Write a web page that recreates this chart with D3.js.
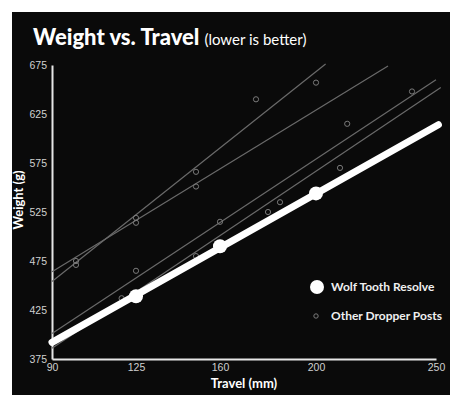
<!DOCTYPE html>
<html>
<head>
<meta charset="utf-8">
<script src="https://cdn.jsdelivr.net/npm/d3@7"></script>
<style>
  html, body { margin: 0; padding: 0; background: #fff; }
  svg { display: block; }
</style>
</head>
<body>
<script>
// chart values
const xTicks = [90, 125, 160, 200, 250]
const yTicks = [375, 425, 475, 525, 575, 625, 675]

const wolfTravel = [125, 160, 200]
const wolfWeight = [439, 490, 544]
const wolfFit = [[90, 392], [251, 614]]

const otherTravel = [100, 100, 119, 125, 125, 125, 150, 150, 150, 160, 175, 180, 185, 200, 210, 213, 240]
const otherWeight = [475, 471, 437, 519, 514, 465, 566, 551, 480, 515, 640, 525, 535, 657, 570, 615, 648]

// trend lines of the other posts: [travel, weight] start and end
const otherFits = [
    [[90, 454], [204, 676]],
    [[90, 464], [230, 674]],
    [[90, 401], [250, 660]],
    [[90, 386], [252, 652]]
]

const legendLabels = ["Wolf Tooth Resolve", "Other Dropper Posts"]

let svg = d3.select("body")
    .append("svg")
    .attr("width", 462)
    .attr("height", 408)

svg.append("rect")
    .attr("x", 12)
    .attr("y", 12)
    .attr("width", 438)
    .attr("height", 383)
    .attr("fill", "#0a0a0a")

let x = d3.scaleLinear().domain([90, 250]).range([52, 436])
let y = d3.scaleLinear().domain([375, 675]).range([359, 65])

// title
let title = svg.append("text")
    .attr("x", 33)
    .attr("y", 45)
    .attr("fill", "#fff")
    .style("font-family", "Lato, sans-serif")
title.append("tspan")
    .style("font-weight", 900)
    .style("font-size", "22px")
    .text("Weight vs. Travel")
title.append("tspan")
    .attr("dx", 5)
    .style("font-weight", 400)
    .style("font-size", "15px")
    .text("(lower is better)")

// axes
svg.append("g")
    .attr("transform", "translate(0,359)")
    .call(d3.axisBottom(x).tickValues(xTicks).tickSize(0).tickPadding(5).tickFormat(d3.format("d")))
svg.append("g")
    .attr("transform", "translate(52,0)")
    .call(d3.axisLeft(y).tickValues(yTicks).tickSize(0).tickPadding(5).tickFormat(d3.format("d")))

svg.selectAll(".domain")
    .attr("stroke", "#e6e6e6")
    .attr("stroke-width", 2)
svg.selectAll(".tick text")
    .attr("fill", "#d0d0d0")
    .style("font-family", "'Liberation Sans', Arial, sans-serif")
    .style("font-size", "10.5px")

svg.append("text")
    .attr("x", 244)
    .attr("y", 388)
    .attr("text-anchor", "middle")
    .attr("fill", "#fff")
    .style("font-family", "Lato, sans-serif")
    .style("font-weight", 700)
    .style("font-size", "13px")
    .text("Travel (mm)")

svg.append("text")
    .attr("transform", "translate(23,200) rotate(-90)")
    .attr("text-anchor", "middle")
    .attr("fill", "#fff")
    .style("font-family", "Lato, sans-serif")
    .style("font-weight", 700)
    .style("font-size", "13px")
    .text("Weight (g)")

// other posts
let line = d3.line()
    .x(function (d) { return x(d[0]) })
    .y(function (d) { return y(d[1]) })

svg.append("g").selectAll("path")
    .data(otherFits)
    .enter()
    .append("path")
    .attr("d", line)
    .attr("fill", "none")
    .attr("stroke", "#6a6a6a")
    .attr("stroke-width", 1.2)

svg.append("g").selectAll("circle")
    .data(otherTravel)
    .enter()
    .append("circle")
    .attr("cx", function (d) { return x(d) })
    .attr("cy", function (d, i) { return y(otherWeight[i]) })
    .attr("r", 2.6)
    .attr("fill", "none")
    .attr("stroke", "#7a7a7a")
    .attr("stroke-width", 1)

// wolf tooth
svg.append("path")
    .attr("d", line(wolfFit))
    .attr("fill", "none")
    .attr("stroke", "#fff")
    .attr("stroke-width", 7)
    .attr("stroke-linecap", "round")

svg.append("g").selectAll("circle")
    .data(wolfTravel)
    .enter()
    .append("circle")
    .attr("cx", function (d) { return x(d) })
    .attr("cy", function (d, i) { return y(wolfWeight[i]) })
    .attr("r", 7)
    .attr("fill", "#fff")

// legend
let legend = svg.append("g")
legend.append("circle")
    .attr("cx", 317)
    .attr("cy", 287)
    .attr("r", 7)
    .attr("fill", "#fff")
legend.append("circle")
    .attr("cx", 316)
    .attr("cy", 316)
    .attr("r", 2.2)
    .attr("fill", "none")
    .attr("stroke", "#7a7a7a")
    .attr("stroke-width", 1)
legend.selectAll("text")
    .data(legendLabels)
    .enter()
    .append("text")
    .attr("x", 331)
    .attr("y", function (d, i) { return 287 + i * 29 })
    .attr("dy", "0.35em")
    .attr("fill", "#f0f0f0")
    .style("font-family", "Lato, sans-serif")
    .style("font-weight", 700)
    .style("font-size", "12px")
    .text(function (d) { return d })
</script>
</body>
</html>
